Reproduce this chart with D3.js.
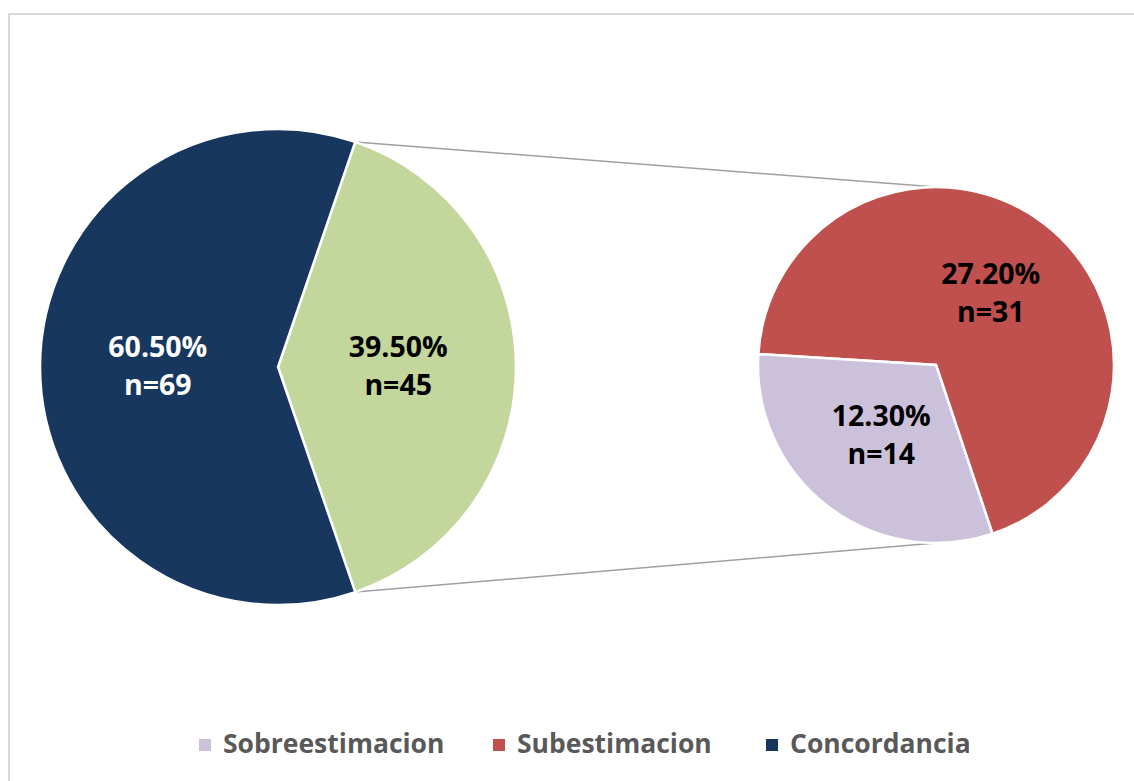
<!DOCTYPE html>
<html>
<head>
<meta charset="utf-8">
<script src="https://cdn.jsdelivr.net/npm/d3@7"></script>
<style>
  html, body { margin: 0; padding: 0; background: #fff; }
  svg { display: block; }
  text { font-family: "Open Sans", Lato, sans-serif; font-weight: bold; }
</style>
</head>
<body>
<svg id="chart" width="1134" height="781"></svg>
<script>
// ---- data ----
const mainCategories = ["Desacuerdo", "Concordancia"];
const mainCounts = [45, 69];
const mainPercents = ["39.50%", "60.50%"];
const mainColors = ["#C3D69B", "#17375E"];
const mainLabelColors = ["#000000", "#FFFFFF"];

const subCategories = ["Subestimacion", "Sobreestimacion"];
const subCounts = [31, 14];
const subPercents = ["27.20%", "12.30%"];
const subColors = ["#C0504D", "#CCC1DA"];
const subLabelColors = ["#000000", "#000000"];

const legendLabels = ["Sobreestimacion", "Subestimacion", "Concordancia"];
const legendColors = ["#CCC1DA", "#C0504D", "#17375E"];

// ---- layout ----
const svg = d3.select("#chart");
const deg = Math.PI / 180;

svg.append("rect")
  .attr("x", 9).attr("y", 14).attr("width", 1200).attr("height", 900)
  .attr("fill", "#fff").attr("stroke", "#D9D9D9").attr("stroke-width", 2);

const main = { cx: 278, cy: 367, r: 238 };
const sub = { cx: 936, cy: 365, r: 178 };

// main pie: grouped slice centred on the right side
const mainTotal = d3.sum(mainCounts);
const groupFrac = mainCounts[0] / mainTotal;
const mainStart = (90 - groupFrac * 180) * deg;
const mainPie = d3.pie().sort(null).startAngle(mainStart).endAngle(mainStart + 2 * Math.PI);
const mainArcs = mainPie(mainCounts);

// secondary pie
const subStart = 273.5 * deg;
const subPie = d3.pie().sort(null).startAngle(subStart).endAngle(subStart + 2 * Math.PI);
const subArcs = subPie(subCounts);

// connector lines
const g0 = mainArcs[0];
const pt = (c, a, r) => [c.cx + r * Math.sin(a), c.cy - r * Math.cos(a)];
const [tx1, ty1] = pt(main, g0.startAngle, main.r);
const [bx1, by1] = pt(main, g0.endAngle, main.r);
svg.append("line").attr("x1", tx1).attr("y1", ty1).attr("x2", sub.cx).attr("y2", sub.cy - sub.r)
  .attr("stroke", "#A0A0A0").attr("stroke-width", 1.5);
svg.append("line").attr("x1", bx1).attr("y1", by1).attr("x2", sub.cx).attr("y2", sub.cy + sub.r)
  .attr("stroke", "#A0A0A0").attr("stroke-width", 1.5);

function drawPie(c, arcs, colors, labelColors, percents, counts) {
  const g = svg.append("g").attr("transform", `translate(${c.cx},${c.cy})`);
  const arc = d3.arc().innerRadius(0).outerRadius(c.r);
  const labelArc = d3.arc().innerRadius(c.r * 0.505).outerRadius(c.r * 0.505);
  g.selectAll("path").data(arcs).join("path")
    .attr("d", arc)
    .attr("fill", (d, i) => colors[i])
    .attr("stroke", "#fff").attr("stroke-width", 2.5).attr("stroke-linejoin", "miter");
  const t = g.selectAll("text").data(arcs).join("text")
    .attr("transform", d => `translate(${labelArc.centroid(d)})`)
    .attr("text-anchor", "middle")
    .attr("font-size", 28.5)
    .attr("fill", (d, i) => labelColors[i]);
  t.append("tspan").attr("x", 0).attr("y", -10).text((d, i) => percents[i]);
  t.append("tspan").attr("x", 0).attr("y", 28).text((d, i) => "n=" + counts[i]);
}
drawPie(main, mainArcs, mainColors, mainLabelColors, mainPercents, mainCounts);
drawPie(sub, subArcs, subColors, subLabelColors, subPercents, subCounts);

// legend
const legendX = [199, 493, 766];
const lg = svg.append("g");
legendLabels.forEach((lab, i) => {
  lg.append("rect").attr("x", legendX[i]).attr("y", 739).attr("width", 12).attr("height", 12)
    .attr("fill", legendColors[i]);
  lg.append("text").attr("x", legendX[i] + 24).attr("y", 753)
    .attr("font-size", 26.5).attr("fill", "#595959").text(lab);
});
</script>
</body>
</html>
